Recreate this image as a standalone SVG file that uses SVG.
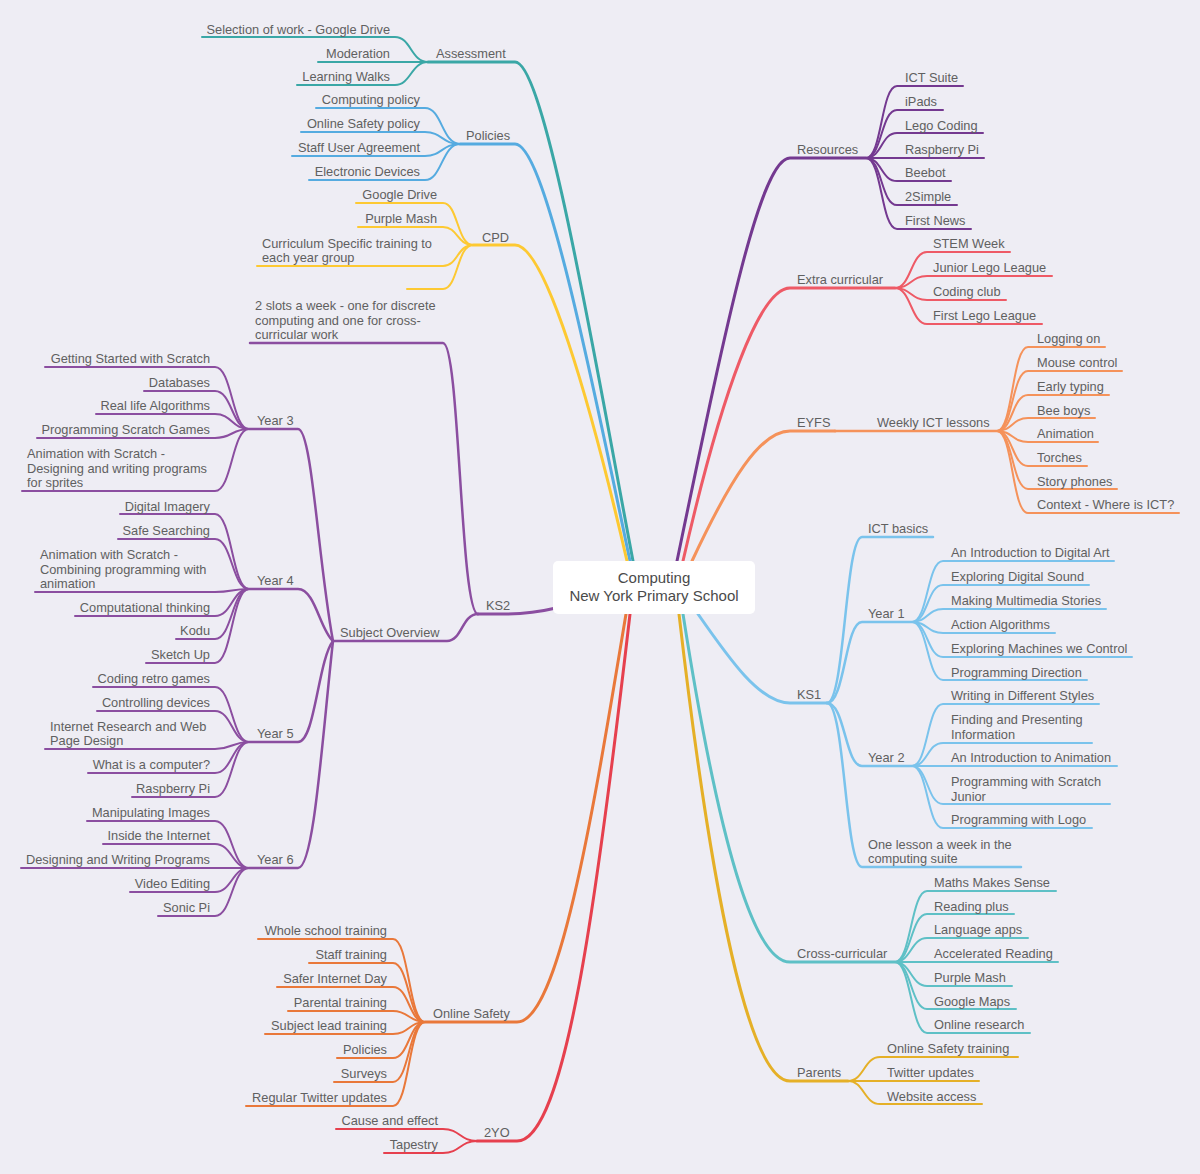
<svg xmlns="http://www.w3.org/2000/svg" width="1200" height="1174" viewBox="0 0 1200 1174">
<style>
.t{font-family:"Liberation Sans",Arial,sans-serif;font-size:12.8px;fill:#606060}
.r{text-anchor:end}
.ct{font-family:"Liberation Sans",Arial,sans-serif;font-size:15px;fill:#4a4a4a;text-anchor:middle}
path{fill:none;stroke-linecap:round;stroke-linejoin:round}
.w1{stroke-width:3}
.w2{stroke-width:2.5}
.w3{stroke-width:2}
.as{stroke:#3aa7a6}.po{stroke:#55abe0}.cp{stroke:#fdc932}.k2{stroke:#8b4ea0}
.os{stroke:#e9783a}.yo{stroke:#e6404e}.re{stroke:#743990}.ex{stroke:#ee5a66}
.ey{stroke:#f5925a}.k1{stroke:#7ac3ec}.cc{stroke:#5ec0c6}.pa{stroke:#e5b027}
</style>
<rect width="1200" height="1174" fill="#eeedf4"/>
<g id="connectors">
<!-- Assessment -->
<path class="as w1" d="M428,62 L515,62 C545,62 595,360 633,561"/>
<path class="as w3" d="M428,62 C411,62 411,37 395,37 L202,37"/>
<path class="as w3" d="M428,62 L318,62"/>
<path class="as w3" d="M428,62 C411,62 411,85 395,85 L297,85"/>
<!-- Policies -->
<path class="po w1" d="M460,144 L515,144 C545,144 592,380 630,561"/>
<path class="po w3" d="M460,144 C442,144 442,108 425,108 L316,108"/>
<path class="po w3" d="M460,144 C442,144 442,132 425,132 L301,132"/>
<path class="po w3" d="M460,144 C442,144 442,156 425,156 L292,156"/>
<path class="po w3" d="M460,144 C442,144 442,180 425,180 L309,180"/>
<!-- CPD -->
<path class="cp w1" d="M473,245 L515,245 C545,245 590,400 627,561"/>
<path class="cp w3" d="M473,245 C457,245 458,203 443,203 L356,203"/>
<path class="cp w3" d="M473,245 C457,245 458,227 443,227 L358,227"/>
<path class="cp w3" d="M473,245 C457,245 458,266 443,266 L257,266"/>
<path class="cp w3" d="M473,245 C457,245 458,289 443,289 L407,289"/>
<!-- KS2 -->
<path class="k2 w1" d="M556,608 C535,613 522,614 505,614 L478,614"/>
<path class="k2 w2" d="M478,614 C460,614 460,343 443,343 L250,343"/>
<path class="k2 w2" d="M478,614 C462,614 462,641 447,641 L333,641"/>
<path class="k2 w2" d="M333,641 C318,560 312,429 298,429 L249,429"/>
<path class="k2 w2" d="M333,641 C320,630 315,589 298,589 L249,589"/>
<path class="k2 w2" d="M333,641 C318,660 315,742 298,742 L249,742"/>
<path class="k2 w2" d="M333,641 C322,740 314,868 298,868 L249,868"/>
<path class="k2 w3" d="M249,429 C232,429 232,367 215,367 L45,367"/>
<path class="k2 w3" d="M249,429 C232,429 232,391 215,391 L144,391"/>
<path class="k2 w3" d="M249,429 C232,429 232,414 215,414 L96,414"/>
<path class="k2 w3" d="M249,429 C232,429 232,438 215,438 L37,438"/>
<path class="k2 w3" d="M249,429 C232,429 232,491 215,491 L22,491"/>
<path class="k2 w3" d="M249,589 C232,589 232,514 215,514 L120,514"/>
<path class="k2 w3" d="M249,589 C232,589 232,539 215,539 L118,539"/>
<path class="k2 w3" d="M249,589 C232,589 232,592 215,592 L35,592"/>
<path class="k2 w3" d="M249,589 C232,589 232,616 215,616 L75,616"/>
<path class="k2 w3" d="M249,589 C232,589 232,639 215,639 L176,639"/>
<path class="k2 w3" d="M249,589 C232,589 232,663 215,663 L146,663"/>
<path class="k2 w3" d="M249,742 C232,742 232,687 215,687 L93,687"/>
<path class="k2 w3" d="M249,742 C232,742 232,711 215,711 L97,711"/>
<path class="k2 w3" d="M249,742 C232,742 232,749 215,749 L45,749"/>
<path class="k2 w3" d="M249,742 C232,742 232,773 215,773 L88,773"/>
<path class="k2 w3" d="M249,742 C232,742 232,797 215,797 L132,797"/>
<path class="k2 w3" d="M249,868 C232,868 232,821 215,821 L87,821"/>
<path class="k2 w3" d="M249,868 C232,868 232,844 215,844 L103,844"/>
<path class="k2 w3" d="M249,868 L21,868"/>
<path class="k2 w3" d="M249,868 C232,868 232,892 215,892 L130,892"/>
<path class="k2 w3" d="M249,868 C232,868 232,916 215,916 L158,916"/>
<!-- Online Safety -->
<path class="os w1" d="M425,1022 L517,1022 C560,1022 595,800 626,614"/>
<path class="os w3" d="M425,1022 C409,1022 409,939 393,939 L258,939"/>
<path class="os w3" d="M425,1022 C409,1022 409,963 393,963 L309,963"/>
<path class="os w3" d="M425,1022 C409,1022 409,987 393,987 L277,987"/>
<path class="os w3" d="M425,1022 C409,1022 409,1011 393,1011 L288,1011"/>
<path class="os w3" d="M425,1022 C409,1022 409,1034 393,1034 L265,1034"/>
<path class="os w3" d="M425,1022 C409,1022 409,1058 393,1058 L337,1058"/>
<path class="os w3" d="M425,1022 C409,1022 409,1082 393,1082 L334,1082"/>
<path class="os w3" d="M425,1022 C409,1022 409,1106 393,1106 L246,1106"/>
<!-- 2YO -->
<path class="yo w1" d="M477,1141 L517,1141 C565,1141 597,900 630,614"/>
<path class="yo w3" d="M477,1141 C460,1141 460,1129 443,1129 L336,1129"/>
<path class="yo w3" d="M477,1141 C460,1141 460,1153 443,1153 L384,1153"/>
<!-- Resources -->
<path class="re w1" d="M866,158 L790,158 C760,158 725,330 677,561"/>
<path class="re w3" d="M866,158 C882,158 881,86 897,86 L963,86"/>
<path class="re w3" d="M866,158 C882,158 881,110 897,110 L943,110"/>
<path class="re w3" d="M866,158 C882,158 881,133 897,133 L983,133"/>
<path class="re w3" d="M866,158 L984,158"/>
<path class="re w3" d="M866,158 C882,158 881,181 897,181 L951,181"/>
<path class="re w3" d="M866,158 C882,158 881,205 897,205 L957,205"/>
<path class="re w3" d="M866,158 C882,158 881,229 897,229 L971,229"/>
<!-- Extra curricular -->
<path class="ex w1" d="M895,288 L790,288 C760,288 722,390 683,561"/>
<path class="ex w3" d="M895,288 C911,288 911,252 927,252 L1010,252"/>
<path class="ex w3" d="M895,288 C911,288 911,276 927,276 L1052,276"/>
<path class="ex w3" d="M895,288 C911,288 911,300 927,300 L1006,300"/>
<path class="ex w3" d="M895,288 C911,288 911,324 927,324 L1042,324"/>
<!-- EYFS -->
<path class="ey w1" d="M835,431 L790,431 C760,431 730,480 692,561"/>
<path class="ey w2" d="M835,431 L997,431"/>
<path class="ey w3" d="M997,431 C1013,431 1012,347 1028,347 L1105,347"/>
<path class="ey w3" d="M997,431 C1013,431 1012,371 1028,371 L1122,371"/>
<path class="ey w3" d="M997,431 C1013,431 1012,395 1028,395 L1109,395"/>
<path class="ey w3" d="M997,431 C1013,431 1012,418 1028,418 L1095,418"/>
<path class="ey w3" d="M997,431 C1013,431 1012,442 1028,442 L1098,442"/>
<path class="ey w3" d="M997,431 C1013,431 1012,466 1028,466 L1087,466"/>
<path class="ey w3" d="M997,431 C1013,431 1012,489 1028,489 L1117,489"/>
<path class="ey w3" d="M997,431 C1013,431 1012,513 1028,513 L1179,513"/>
<!-- KS1 -->
<path class="k1 w1" d="M827,703 L790,703 C760,703 730,660 698,614"/>
<path class="k1 w2" d="M827,703 C845,703 845,537 862,537 L933,537"/>
<path class="k1 w2" d="M827,703 C845,703 845,622 862,622 L912,622"/>
<path class="k1 w2" d="M827,703 C845,703 845,766 862,766 L912,766"/>
<path class="k1 w2" d="M827,703 C845,703 845,867 862,867 L1021,867"/>
<path class="k1 w3" d="M912,622 C928,622 927,561 943,561 L1114,561"/>
<path class="k1 w3" d="M912,622 C928,622 927,585 943,585 L1089,585"/>
<path class="k1 w3" d="M912,622 C928,622 927,609 943,609 L1106,609"/>
<path class="k1 w3" d="M912,622 C928,622 927,633 943,633 L1055,633"/>
<path class="k1 w3" d="M912,622 C928,622 927,657 943,657 L1132,657"/>
<path class="k1 w3" d="M912,622 C928,622 927,680 943,680 L1087,680"/>
<path class="k1 w3" d="M912,766 C928,766 927,704 943,704 L1099,704"/>
<path class="k1 w3" d="M912,766 C928,766 927,743 943,743 L1092,743"/>
<path class="k1 w3" d="M912,766 L1117,766"/>
<path class="k1 w3" d="M912,766 C928,766 927,804 943,804 L1110,804"/>
<path class="k1 w3" d="M912,766 C928,766 927,828 943,828 L1092,828"/>
<!-- Cross-curricular -->
<path class="cc w1" d="M895,962 L790,962 C755,962 720,850 683,614"/>
<path class="cc w3" d="M895,962 C911,962 911,891 927,891 L1056,891"/>
<path class="cc w3" d="M895,962 C911,962 911,914 927,914 L1014,914"/>
<path class="cc w3" d="M895,962 C911,962 911,938 927,938 L1028,938"/>
<path class="cc w3" d="M895,962 L1058,962"/>
<path class="cc w3" d="M895,962 C911,962 911,986 927,986 L1012,986"/>
<path class="cc w3" d="M895,962 C911,962 911,1009 927,1009 L1016,1009"/>
<path class="cc w3" d="M895,962 C911,962 911,1033 927,1033 L1030,1033"/>
<!-- Parents -->
<path class="pa w1" d="M848,1081 L790,1081 C750,1081 712,900 679,614"/>
<path class="pa w3" d="M848,1081 C864,1081 864,1057 880,1057 L1018,1057"/>
<path class="pa w3" d="M848,1081 L979,1081"/>
<path class="pa w3" d="M848,1081 C864,1081 864,1104 880,1104 L982,1104"/>
</g>
<g id="center">
<rect x="553" y="561" width="202" height="53" rx="5" fill="#ffffff"/>
<text class="ct" x="654" y="583">Computing</text>
<text class="ct" x="654" y="601">New York Primary School</text>
</g>
<g id="assessment"><text class="t" x="436" y="58">Assessment</text>
<text class="t r" x="390" y="34">Selection of work - Google Drive</text>
<text class="t r" x="390" y="58">Moderation</text>
<text class="t r" x="390" y="81">Learning Walks</text></g>
<g id="policies"><text class="t" x="466" y="140">Policies</text>
<text class="t r" x="420" y="104">Computing policy</text>
<text class="t r" x="420" y="128">Online Safety policy</text>
<text class="t r" x="420" y="152">Staff User Agreement</text>
<text class="t r" x="420" y="176">Electronic Devices</text></g>
<g id="cpd"><text class="t" x="482" y="242">CPD</text>
<text class="t r" x="437" y="199">Google Drive</text>
<text class="t r" x="437" y="223">Purple Mash</text>
<text class="t" x="262" y="248">Curriculum Specific training to</text>
<text class="t" x="262" y="262">each year group</text></g>
<g id="ks2"><text class="t" x="486" y="610">KS2</text>
<text class="t" x="255" y="310">2 slots a week - one for discrete</text>
<text class="t" x="255" y="325">computing and one for cross-</text>
<text class="t" x="255" y="339">curricular work</text>
<text class="t" x="340" y="637">Subject Overview</text></g>
<g id="year3"><text class="t" x="257" y="425">Year 3</text>
<text class="t r" x="210" y="363">Getting Started with Scratch</text>
<text class="t r" x="210" y="387">Databases</text>
<text class="t r" x="210" y="410">Real life Algorithms</text>
<text class="t r" x="210" y="434">Programming Scratch Games</text>
<text class="t" x="27" y="458">Animation with Scratch -</text>
<text class="t" x="27" y="473">Designing and writing programs</text>
<text class="t" x="27" y="487">for sprites</text></g>
<g id="year4"><text class="t" x="257" y="585">Year 4</text>
<text class="t r" x="210" y="511">Digital Imagery</text>
<text class="t r" x="210" y="535">Safe Searching</text>
<text class="t" x="40" y="559">Animation with Scratch -</text>
<text class="t" x="40" y="574">Combining programming with</text>
<text class="t" x="40" y="588">animation</text>
<text class="t r" x="210" y="612">Computational thinking</text>
<text class="t r" x="210" y="635">Kodu</text>
<text class="t r" x="210" y="659">Sketch Up</text></g>
<g id="year5"><text class="t" x="257" y="738">Year 5</text>
<text class="t r" x="210" y="683">Coding retro games</text>
<text class="t r" x="210" y="707">Controlling devices</text>
<text class="t" x="50" y="731">Internet Research and Web</text>
<text class="t" x="50" y="745">Page Design</text>
<text class="t r" x="210" y="769">What is a computer?</text>
<text class="t r" x="210" y="793">Raspberry Pi</text></g>
<g id="year6"><text class="t" x="257" y="864">Year 6</text>
<text class="t r" x="210" y="817">Manipulating Images</text>
<text class="t r" x="210" y="840">Inside the Internet</text>
<text class="t r" x="210" y="864">Designing and Writing Programs</text>
<text class="t r" x="210" y="888">Video Editing</text>
<text class="t r" x="210" y="912">Sonic Pi</text></g>
<g id="online-safety"><text class="t" x="433" y="1018">Online Safety</text>
<text class="t r" x="387" y="935">Whole school training</text>
<text class="t r" x="387" y="959">Staff training</text>
<text class="t r" x="387" y="983">Safer Internet Day</text>
<text class="t r" x="387" y="1007">Parental training</text>
<text class="t r" x="387" y="1030">Subject lead training</text>
<text class="t r" x="387" y="1054">Policies</text>
<text class="t r" x="387" y="1078">Surveys</text>
<text class="t r" x="387" y="1102">Regular Twitter updates</text></g>
<g id="two-yo"><text class="t" x="484" y="1137">2YO</text>
<text class="t r" x="438" y="1125">Cause and effect</text>
<text class="t r" x="438" y="1149">Tapestry</text></g>
<g id="resources"><text class="t" x="797" y="154">Resources</text>
<text class="t" x="905" y="82">ICT Suite</text>
<text class="t" x="905" y="106">iPads</text>
<text class="t" x="905" y="130">Lego Coding</text>
<text class="t" x="905" y="154">Raspberry Pi</text>
<text class="t" x="905" y="177">Beebot</text>
<text class="t" x="905" y="201">2Simple</text>
<text class="t" x="905" y="225">First News</text></g>
<g id="extra-curricular"><text class="t" x="797" y="284">Extra curricular</text>
<text class="t" x="933" y="248">STEM Week</text>
<text class="t" x="933" y="272">Junior Lego League</text>
<text class="t" x="933" y="296">Coding club</text>
<text class="t" x="933" y="320">First Lego League</text></g>
<g id="eyfs"><text class="t" x="797" y="427">EYFS</text>
<text class="t" x="877" y="427">Weekly ICT lessons</text>
<text class="t" x="1037" y="343">Logging on</text>
<text class="t" x="1037" y="367">Mouse control</text>
<text class="t" x="1037" y="391">Early typing</text>
<text class="t" x="1037" y="415">Bee boys</text>
<text class="t" x="1037" y="438">Animation</text>
<text class="t" x="1037" y="462">Torches</text>
<text class="t" x="1037" y="486">Story phones</text>
<text class="t" x="1037" y="509">Context - Where is ICT?</text></g>
<g id="ks1"><text class="t" x="797" y="699">KS1</text>
<text class="t" x="868" y="533">ICT basics</text>
<text class="t" x="868" y="849">One lesson a week in the</text>
<text class="t" x="868" y="863">computing suite</text></g>
<g id="year1"><text class="t" x="868" y="618">Year 1</text>
<text class="t" x="951" y="557">An Introduction to Digital Art</text>
<text class="t" x="951" y="581">Exploring Digital Sound</text>
<text class="t" x="951" y="605">Making Multimedia Stories</text>
<text class="t" x="951" y="629">Action Algorithms</text>
<text class="t" x="951" y="653">Exploring Machines we Control</text>
<text class="t" x="951" y="677">Programming Direction</text></g>
<g id="year2"><text class="t" x="868" y="762">Year 2</text>
<text class="t" x="951" y="700">Writing in Different Styles</text>
<text class="t" x="951" y="724">Finding and Presenting</text>
<text class="t" x="951" y="739">Information</text>
<text class="t" x="951" y="762">An Introduction to Animation</text>
<text class="t" x="951" y="786">Programming with Scratch</text>
<text class="t" x="951" y="801">Junior</text>
<text class="t" x="951" y="824">Programming with Logo</text></g>
<g id="cross-curricular"><text class="t" x="797" y="958">Cross-curricular</text>
<text class="t" x="934" y="887">Maths Makes Sense</text>
<text class="t" x="934" y="911">Reading plus</text>
<text class="t" x="934" y="934">Language apps</text>
<text class="t" x="934" y="958">Accelerated Reading</text>
<text class="t" x="934" y="982">Purple Mash</text>
<text class="t" x="934" y="1006">Google Maps</text>
<text class="t" x="934" y="1029">Online research</text></g>
<g id="parents"><text class="t" x="797" y="1077">Parents</text>
<text class="t" x="887" y="1053">Online Safety training</text>
<text class="t" x="887" y="1077">Twitter updates</text>
<text class="t" x="887" y="1101">Website access</text></g>
</svg>
